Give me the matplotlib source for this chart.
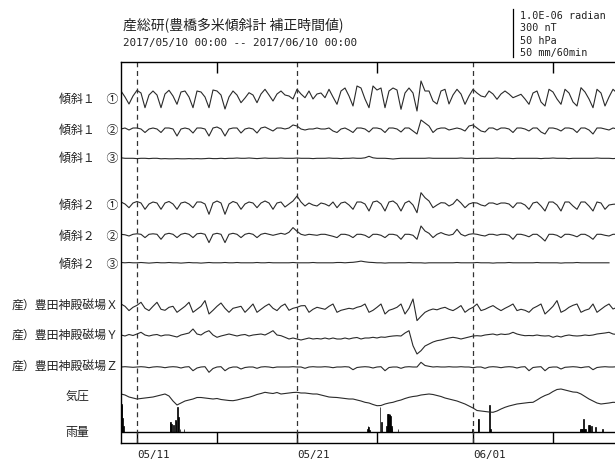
import matplotlib
matplotlib.use("Agg")
import matplotlib.pyplot as plt
from matplotlib.lines import Line2D
import numpy as np

# ---------------- data (6-hour samples from 2017/05/10 00:00) ----------------
STEP_DAYS = 0.25

tilt1_1 = [8,2,-5,3,8.7,6,-8.7,4,8,4,-8.7,5,8.7,3,-5.3,7,8,2,-8.7,8,7,2,-8.7,9,8,4,-10,2,8,4,-3.7,1,6.3,4,-3.7,5,9.7,4,-2,5,8,4,
           3,0,9.7,5,1.3,8,0,5,6,1.3,9.7,2,-5.3,8,11,3,-7,13,11,0,-8.7,13,9,11,-8.7,8,11,9,-10.3,6,11,6,-12,18,8,8,-2,-5,8,9.7,-5,4,
           9.7,5,-5.3,3,9.7,6,3,2,8,5,-0.3,5,8,5,1.3,3,4.7,0,-5.3,6,8,-3,-7,9.7,7,0,-5.3,9.7,6,-3,-7,11.3,7,0,-8.7,9.7,6,-7,2,9.7,6]
tilt1_2 = [0,1,-1,1,1,0,-3.5,0,1,0,-3.5,1,1,0,-7,0,1,0,-4,1,1,0,-7,1,2,0,-7,0,1,1,-4,0,1,0,-4,1,2,0,-2,1,1,0,
           1,4,3,0,-1,0,0,1,0,0,1,-2,-3.5,0,1,-1,-3.5,1,1,0,-3,1,1,0,-3.5,1,1,0,-3,1,1,-2,-5,9,6,3,-3.5,0,1,1,-1,0,
           1,0,-2,3,4,1,-2,-3,1,1,-1,1,1,0,-3.5,1,1,0,-2,1,1,-3,-5,1,1,0,-2,1,1,0,-3.5,1,1,-1,-5,1,1,0,-1,1,0]
tilt1_3 = [0.5,0,0,0,-0.3,0,0,-0.3,0,0,-0.5,-0.3,-0.5,-0.5,-0.3,-0.5,-0.5,-0.3,-0.5,-0.3,-0.5,-0.3,0,-0.3,-0.3,0,-0.3,0,0,0.3,0,0,0.3,0,-0.3,0,0.3,0,0,0,0.3,0,
           0,0,0.3,0,0,0,-0.3,0,0,0,0.3,0,0,-0.3,0,0,0.3,0,0,0.5,2,0.5,0,0,0,-0.3,-0.7,-0.3,0,0,0,0,0,0,0,0.3,0,0,0,0,0,0,
           0,0.3,0,0,0,-0.3,0,0,0,0,0.3,0,0,0,-0.3,0,0,0,0,0,0,-0.3,0,0,0.3,0,0,0,-0.3,0,0,0,0,0,0,0.3,0,0,0,-0.3,0]
tilt2_1 = [4,2,-1.7,3,4.5,3,-3.3,2,4,3,-3.3,3,4.5,2,-3.3,3,4,2,-1.7,4,4,2,-8.3,3,5,3,-8.3,2,4.5,3,-3.3,2,4,3,-1.7,3,5,3,-3.3,3,4,-1,
           2,5,10,4,0,3,1,0,3,2,0,4,-1.7,3,4,1,-3.3,4,4,2,-5,4,5,2,-5,4,5,2,-5,3,5,1,-6.7,13.3,8.3,5,-1.7,1,3.3,3,0,2,
           6.7,3,-1.7,2,3.3,3,1,0,3,3,1.5,3,3,2,-1.7,3,3,1,-3.3,3,4,0,-5,4,4,1,-5,4,4,0,-3.3,4,4,0,-5,4,3,-3.3,1,1.7,2]
tilt2_2 = [1,0.5,-0.7,1,1.5,1,-2.3,1,1.5,1,-4,1,2,1,-2.3,1,2,1,-2.3,1.5,2,1,-7.3,1,2,1,-7.3,1,2,1,-2.3,1,2,1,-2.3,1,2,1,0,1,2,1,
           3,7.7,4,1,0,1,0.5,0,1,1,0,-1,-2.3,1,1,0,-2.3,1,1,0,-2.3,1,1,0,-2.3,1,1,0,-4,1,1,0,-4,9.3,4.3,2,-2.3,1,2.7,1,0,1,
           6,1,-0.7,1,1.5,1,0,-0.7,1,1,0,1,1,0,-4,1,1,0,-1.5,1,1,-2,-5.7,1,1,0,-2.3,1,1,0,-1.5,1,1,-1,-4,1,1,0,-0.7,1,1]
tilt2_3 = [0.3,0,0.3,0,0,0.3,0,-0.3,0,0.3,0,0,0.3,0,0,-0.3,0,0.3,0,0,-0.3,0,0.3,0,0,0,0.3,0,0,0.3,0,0,0,0,0.3,0,0,0.3,0,0,0,0,
           0,0.3,0,0,0,0,0.3,0,0,0,0,0,0.3,0.3,0,0.3,0.5,1,1.7,1,0.5,0.3,0,0,-0.3,0,0,0,0,0,0.3,0,0,0,-0.3,0,0,0,0,0,
           0,0,0.3,0,0,0,0,0.3,0,0,0,-0.3,0,0,0,0.3,0,0,0,0,0,0,0.3,0,0,0,0,0,-0.3,0,0,0,0.3,0,0,0,0,0,0,0,0]
mag_x = [2.3,0,-4.3,-1,1,4,-2,-4.3,0,4,-3,-4,-1,0,-6,-3,0,4,-6,-3,0,5.7,-7.7,-4,0,3.3,-2,-6,-2,-1,0,-6,-2,2.3,-6,-3,0,2.3,-2,-4.3,0,2.3,
         -4,-2,-1,0.5,0.7,-6,-3,-1,-2,-3,0,2.3,-6,-4,-3,-2,-2.7,-1,0,2.3,-6,-4,-1,2.3,-7.7,-4,-2.7,-1,2.3,-7.7,-2,7.3,-14.3,-10,-6,-4,-2.7,-3.5,-2,-1,-3,-4.3,
         -2,0.7,-6,-3,-1,2.3,-4.3,-3,-1,0.7,-2,-4.3,-2,0,2.3,-4.3,-3,-4,-6,-2,0,2.3,-7.7,-4,0,5.7,-6,-4,-1,1,2.3,-6,-4,-2.7,2.3,-6,-3,0,2.3,-2.7,-1]
mag_y = [0,-1,0.5,-0.5,1,2.7,0,-1,0,0.5,-1,0,0,-1,-2,0,1,2,6,1,0,2.7,4.3,0,-2.3,-1,0,1,0,-1,0,0.5,-1,0,0.5,1,0,2,4.3,0,-0.7,-2.3,
         -4,-3,-4,-5,-4,-3,-4,-3.5,-4,-3,-4,-3,-4,-4,-3,-4,-3,-2.5,-4,-3,-3,-2.3,-3,-2,-2.3,-1.5,-1,-0.7,-1,2,4.3,-10.7,-19,-15.7,-11,-9,-7,-5.7,-5,-4,-3,-2.3,
         -3,-4,-3,-2,-1,-0.7,-1,0,0.5,1,0,1,0.5,1,2.7,1,0,-0.7,-0.5,-0.7,0,-0.7,-1,-0.7,-2.3,-1,-2,-0.7,0,-0.7,-1,-0.7,0,-0.5,0,1,1.5,2,2.7,1,0.5]
mag_z = [0,0.3,0,-0.3,0,0.3,0,-0.7,0,0.3,0,-0.7,0,0.3,0,-1,0,0.3,-3.7,-1,0,0.3,-5.3,-1.5,0,0.3,-3.7,-1,0,0,-2,-0.5,0,0,-1.3,0,0.3,0,-0.7,0,0,0,
         0,0.3,0,0,-1.3,0,0.3,0,0,0.3,0,-0.7,0,0,0.3,0,-2.7,-0.5,0,0.3,0,-1,0,0.3,-3.7,-0.5,0,0,-1.3,0,0.3,0,0,4.7,1.5,0.7,0,0.3,0,0,0.3,0,
         0,0.3,0,0,-0.7,0,0,-1.3,0,0.3,0,-0.7,0,0.3,0,-1,0,0.3,-3.7,-0.5,0,0.3,-3.7,-0.5,0,0,-2,-0.3,0,0.3,0,-0.7,0,0.3,-2.7,-0.5,0,0.3,0,0,0.3]
pressure = [5,4,2,1,0,0.5,1,1.5,2,3,4,5,3,-2,-6,-4,-2,-1,0,1.5,1.5,1,0.5,0,0.5,-0.5,-1,-1.5,-1.7,-1,0,1,1.7,3,4.5,5.5,6.7,6,5.5,6.5,5,5.5,
            6,6.5,6.7,6,6,5.5,5,5,4,3,2,1.7,1.5,1,0.5,0,0,-1,-2,-3.3,-4,-5.5,-6.7,-6.5,-5,-4,-3.3,-2,-1,0.5,1.7,2.5,3,4,4.5,5,4.5,3.5,2.5,1,0,-1,
            -2,-3.5,-5,-7,-9,-11.5,-12,-12.5,-13,-13.3,-12,-10,-8.3,-7,-6,-5,-4.5,-4,-3.5,-3.3,-1,1.5,3.5,5,7.5,9.5,10,9,8,7,6.7,5,2.5,0,-2,-4,-5,-4.5,-4,-3.3,-3.5]

rain_hour = [0,1,2,3, 73,74,75,78,81,82,84,86,88,94,
             369,370,371,372,388,390,398,399,400,401,402,403,404,405,406,415,
             527,535,536,552,554,
             688,689,690,691,692,693,694,695,696,701,702,703,705,711,722]
rain_mm = [28,27,14,6, 10,10,8,7,12,11,25,15,3,3,
           3,6,5,2,25,10,6,18,18,18,17,18,16,6,4,3,
           3,13,13,27,3,
           3,3,3,3,3,13,3,3,3,7,7,6,6,5,3]

labels = ["傾斜１　①", "傾斜１　②", "傾斜１　③", "傾斜２　①", "傾斜２　②", "傾斜２　③",
          "産）豊田神殿磁場Ｘ", "産）豊田神殿磁場Ｙ", "産）豊田神殿磁場Ｚ"]
series = [tilt1_1, tilt1_2, tilt1_3, tilt2_1, tilt2_2, tilt2_3, mag_x, mag_y, mag_z]
major_days = [1, 11, 22]
major_labels = ["05/11", "05/21", "06/01"]
minor_days = [6, 16, 27]
scale_texts = ["1.0E-06 radian", "300 nT", "50 hPa", "50 mm/60min"]
title1 = "産総研(豊橋多米傾斜計 補正時間値)"
title2 = "2017/05/10 00:00 -- 2017/06/10 00:00"

# ---------------- layout (pixel rows of figure) ----------------
W, H = 615, 464
base_rows = [100, 130, 159.3, 207, 236.3, 263.8, 307.3, 336, 368]
label_rows = [99, 130, 158, 205, 236, 264, 305, 335, 366]
press_row = 400
rain_row = 433
CJK = ["Noto Sans CJK JP", "DejaVu Sans"]
MONO = "DejaVu Sans Mono"
LC = "#2a2a2a"
TC = "#222222"

fig = plt.figure(figsize=(W / 100, H / 100), dpi=100)
x0, x1, top, bot = 121, 617, 63, 444
ax = fig.add_axes([x0 / W, (H - bot) / H, (x1 - x0) / W, (bot - top) / H])
ax.set_xlim(0, 31)
ax.set_ylim(bot, top)

for vals, row in zip(series, base_rows):
    v = np.array(vals, dtype=float)
    t = np.arange(len(v)) * STEP_DAYS
    ax.plot(t, row - v, color=LC, lw=0.8)

p = np.array(pressure, dtype=float)
ax.plot(np.arange(len(p)) * STEP_DAYS, press_row - p, color=LC, lw=0.8)

ax.axhline(rain_row, color="black", lw=1.0)
ax.bar(np.array(rain_hour) / 24.0, -np.array(rain_mm, dtype=float), width=1 / 24.0,
       bottom=rain_row, align="edge", color="black", edgecolor="black", linewidth=0.5)

for d in major_days:
    ax.axvline(d, color="#333333", lw=0.9, ls=(0, (4, 3)))

for s in ax.spines.values():
    s.set_color("black")
    s.set_linewidth(1.0)

ax.set_yticks([])
ax.set_xticks(major_days)
ax.set_xticklabels(major_labels, fontfamily=MONO, fontsize=7.8, color=TC, ha="left")
ax.set_xticks(minor_days, minor=True)
ax.tick_params(axis="x", which="major", direction="in", length=8, width=1.0,
               color="black", pad=4, top=False)
ax.tick_params(axis="x", which="minor", direction="in", length=8, width=1.0,
               color="black", top=True)

for lab, row in zip(labels, label_rows):
    fig.text(118 / W, 1 - row / H, lab, ha="right", va="center",
             family=CJK, fontsize=8.6, color=TC)
fig.text(77 / W, 1 - 396 / H, "気圧", ha="center", va="center", family=CJK, fontsize=8.6, color=TC)
fig.text(77 / W, 1 - 433 / H, "雨量", ha="center", va="center", family=CJK, fontsize=8.6, color=TC)

fig.text(123 / W, 1 - 25 / H, title1, ha="left", va="center", family=CJK, fontsize=10, color=TC)
fig.text(123 / W, 1 - 43 / H, title2, ha="left", va="center", family=MONO, fontsize=7.8, color=TC)

fig.add_artist(Line2D([513 / W, 513 / W], [1 - 10 / H, 1 - 58 / H], color="black", lw=0.9))
for k, s in enumerate(scale_texts):
    fig.text(520 / W, 1 - (16 + 12.3 * k) / H, s, ha="left", va="center",
             family=MONO, fontsize=7.3, color=TC)

fig.savefig("out.png", dpi=100)
